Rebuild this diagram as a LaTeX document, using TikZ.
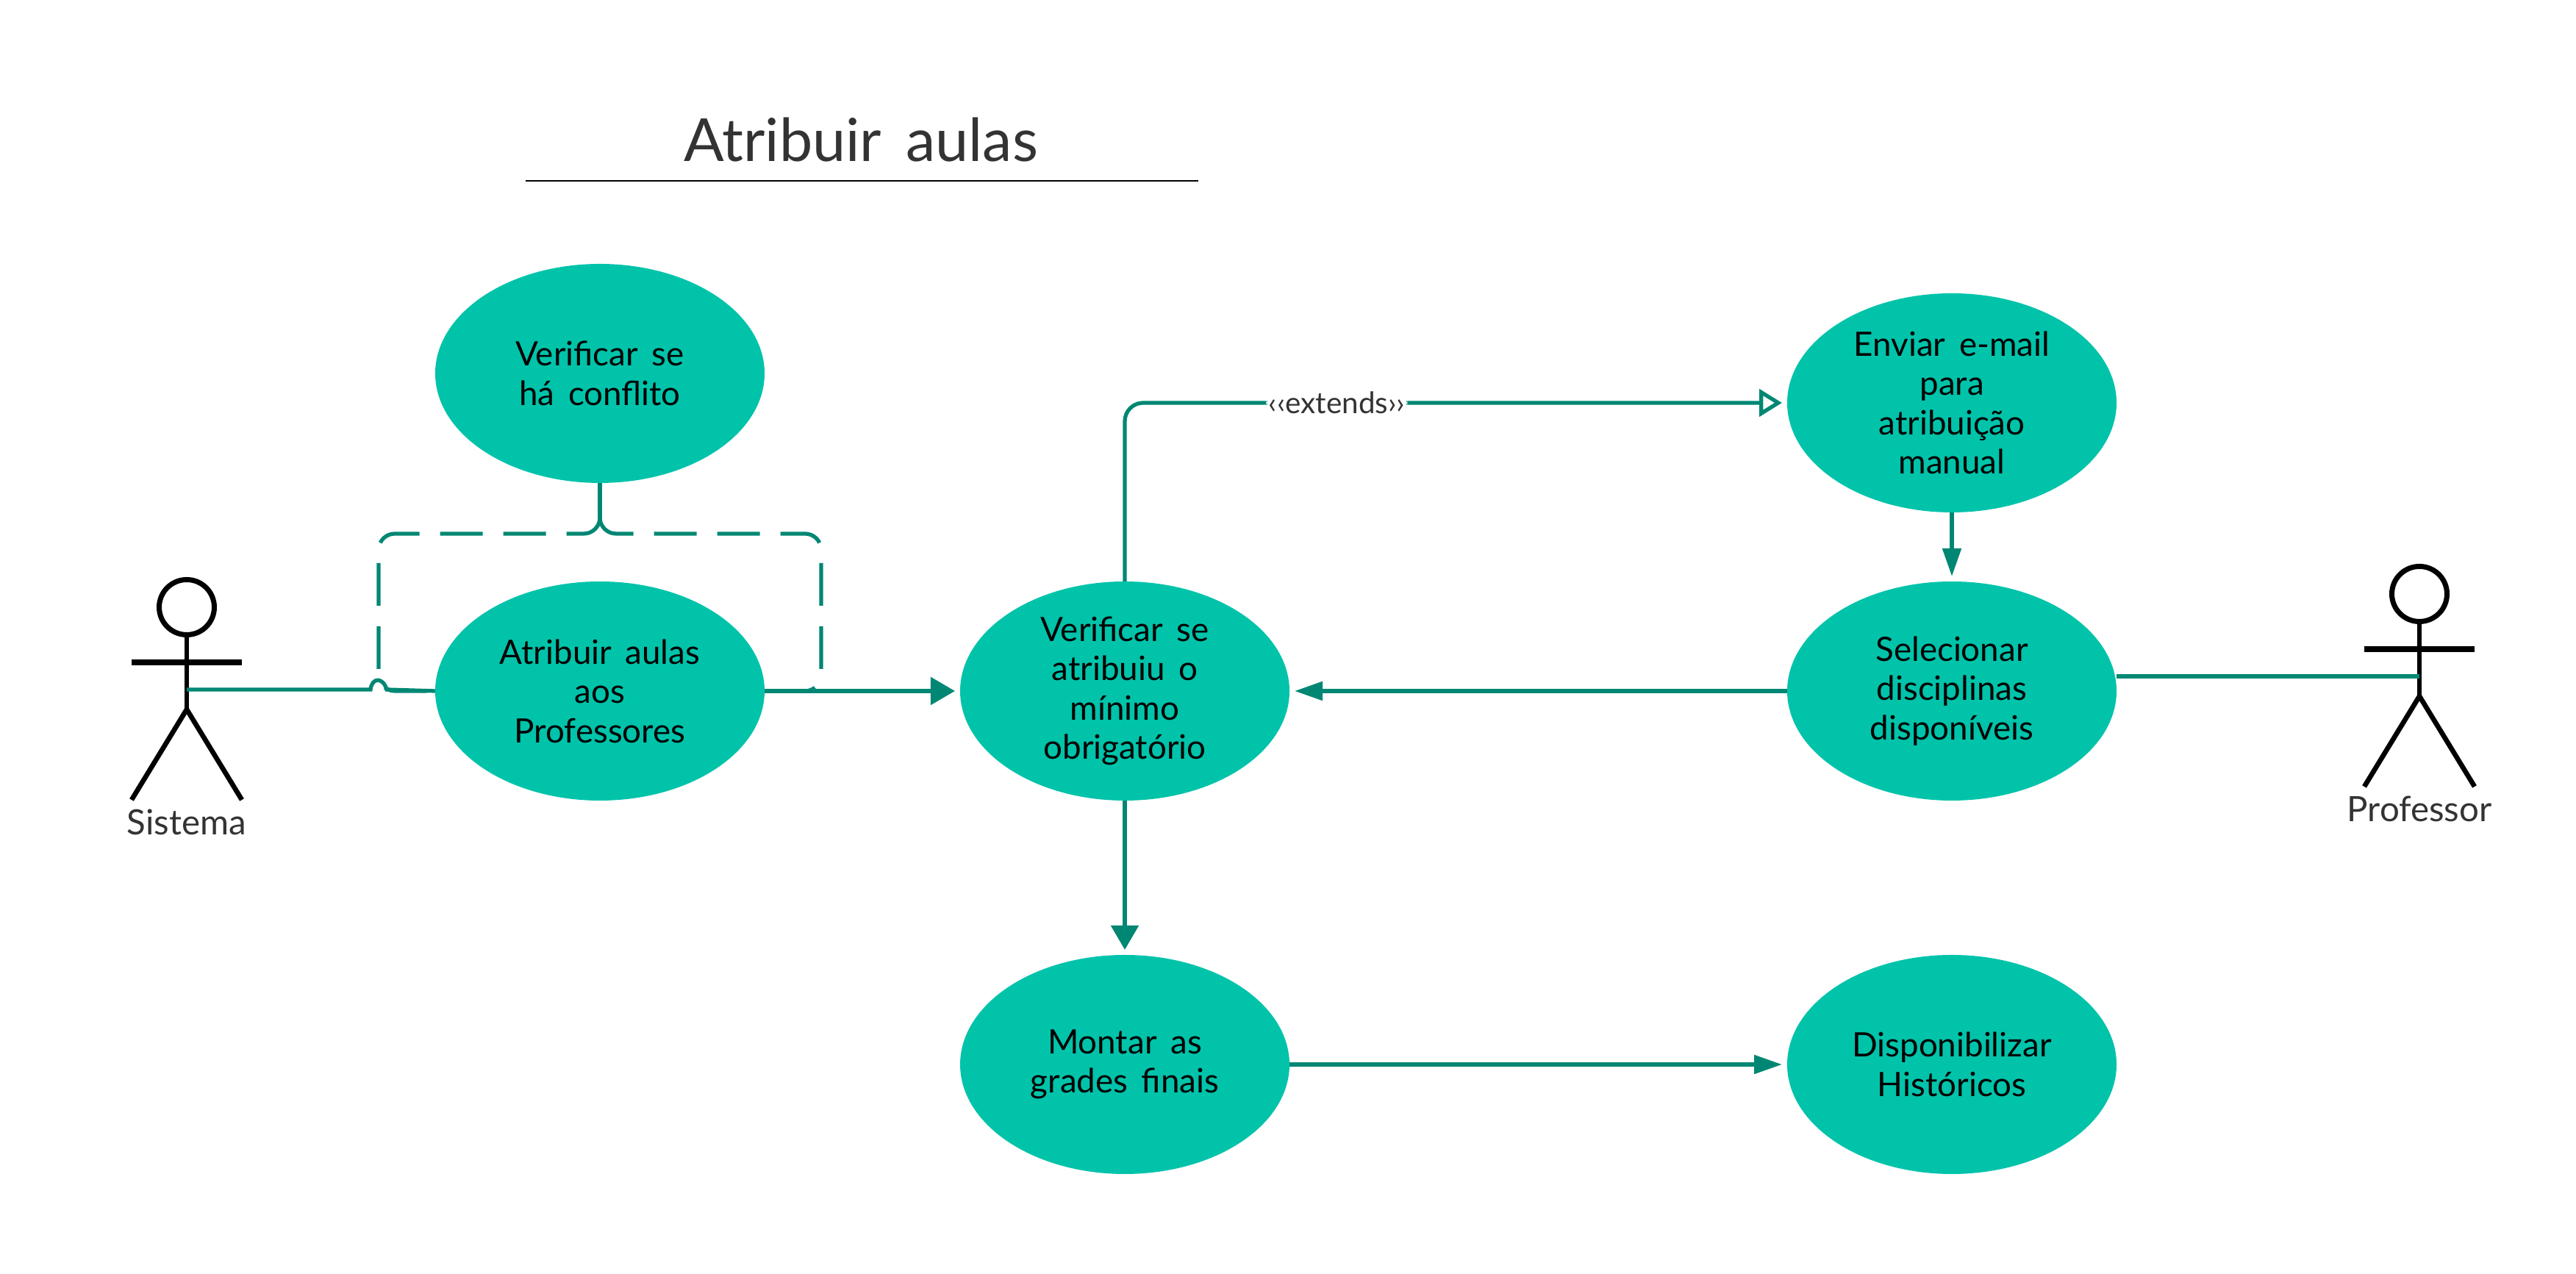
\documentclass[tikz,border=0pt]{standalone}
\usepackage{fontspec}
\setmainfont[WordSpace=1.6]{Lato}
\usepackage{tikz}
\usetikzlibrary{shapes.geometric, arrows.meta, positioning, calc}
\definecolor{casefill}{RGB}{0,195,170}
\definecolor{linkcol}{RGB}{0,135,115}
\definecolor{labelcol}{RGB}{51,51,51}
\tikzstyle{usecase} = [ellipse, minimum width=4.48cm, minimum height=2.98cm, inner sep=0pt, outer sep=0pt, align=center, fill=casefill, text=black, font=\fontsize{13}{15.2}\selectfont]
\tikzstyle{link} = [line width=1.5pt, draw=linkcol]
\tikzstyle{arrow} = [link, shorten >=2pt, -{Triangle[length=0.33cm, width=0.37cm]}]
\tikzstyle{slimarrow} = [link, shorten >=2pt, -{Triangle[length=0.38cm, width=0.25cm]}]
\tikzstyle{extendarrow} = [link, shorten >=2pt, rounded corners=0.25cm, -{Triangle[open, length=0.31cm, width=0.37cm, fill=white]}]
\tikzstyle{dashlink} = [link, rounded corners=0.22cm, dash pattern=on 0.58cm off 0.28cm]
\tikzstyle{actorline} = [line width=1.9pt, draw=black]
\tikzstyle{actorname} = [text=labelcol, font=\fontsize{13.5}{16}\selectfont]
\tikzset{pics/actor/.style={code={
  \node[circle, draw=black, line width=2pt, minimum size=0.75cm, inner sep=0pt] (-head) at (0,0) {};
  \coordinate (-hip) at (0,-1.39);
  \coordinate (-waist) at (0,-1.12);
  \draw[actorline] (-head) -- (-hip);
  \draw[actorline, line width=2.2pt] (-0.75,-0.75) -- (0.75,-0.75);
  \draw[actorline] (-0.75,-2.62) -- (-hip) -- (0.75,-2.62);
  \node[actorname] (-name) at (0,-2.92) {#1};
}}}

\begin{document}
\begin{tikzpicture}
  \useasboundingbox (0,0) rectangle (35.04,17.33);
  \node[text=labelcol, font=\fontsize{23}{28}\selectfont] (title) at (11.71,15.43) {Atribuir aulas};
  \coordinate (ruleleft) at (7.15,14.87);
  \coordinate (ruleright) at (16.3,14.87);
  \draw[line width=0.8pt, black] (ruleleft) -- (ruleright);

  \node[usecase] (atr) at (8.16,7.93) {Atribuir aulas\\aos\\Professores};
  \node[usecase, above=1.34cm of atr] (conf) {Verificar se\\há conflito};
  \node[usecase, right=2.66cm of atr] (verif) {Verificar se\\atribuiu o\\mínimo\\obrigatório};
  \node[usecase, right=6.77cm of verif] (sel) {Selecionar\\disciplinas\\disponíveis};
  \node[usecase, above=0.94cm of sel] (env) {Enviar e-mail\\para\\atribuição\\manual};
  \node[usecase, below=2.1cm of verif] (mon) {Montar as\\grades finais};
  \node[usecase, right=6.77cm of mon] (disp) {Disponibilizar\\Históricos};

  \pic (sis) at (2.54,9.07) {actor=Sistema};
  \pic (pro) at (32.91,9.25) {actor=Professor};

  \coordinate (lc) at ($(atr.center)+(-3.01,2.14)$);
  \coordinate (rc) at ($(atr.center)+(3.01,2.14)$);
  \coordinate (stem) at ($(conf.south |- lc)+(0,0.22)$);
  \coordinate (ja) at ($(lc |- sis-waist)+(-0.11,0)$);
  \coordinate (jb) at ($(lc |- sis-waist)+(0.11,0)$);

  \draw[link] (conf.south) -- (stem);
  \draw[dashlink] (stem) |- (lc) |- (atr.west);
  \draw[dashlink] (stem) |- (rc) |- (atr.east);
  \draw[link] (sis-waist) -- (ja) .. controls +(0.02,0.17) and +(-0.05,0.17) .. (jb) -- (atr.west);
  \draw[arrow] (atr) -- (verif);
  \draw[slimarrow] (sel) -- (verif);
  \draw[arrow] (verif) -- (mon);
  \draw[slimarrow] (mon) -- (disp);
  \draw[slimarrow] (env) -- (sel);
  \draw[link] (sel.east |- pro-waist) -- (pro-waist);
  \draw[extendarrow] (verif.north) |- node[pos=0.66, fill=white, inner sep=1pt, text=labelcol, font=\fontsize{11.5}{14}\selectfont] (ext) {‹‹extends››} (env.west);
\end{tikzpicture}
\end{document}
